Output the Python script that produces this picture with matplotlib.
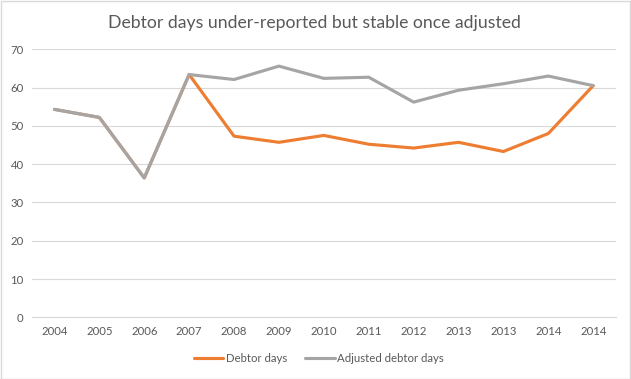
import matplotlib.pyplot as plt
from matplotlib.patches import Rectangle

# year labels as they appear on the axis (duplicates are in the original)
years = ['2004', '2005', '2006', '2007', '2008', '2009', '2010',
         '2011', '2012', '2013', '2013', '2014', '2014']
debtor_days = [54.3, 52.2, 36.4, 63.4, 47.3, 45.7, 47.5,
               45.2, 44.2, 45.7, 43.3, 48.0, 60.5]
adjusted_days = [54.3, 52.2, 36.4, 63.4, 62.1, 65.6, 62.4,
                 62.7, 56.2, 59.3, 61.0, 63.0, 60.5]
yticks = [0, 10, 20, 30, 40, 50, 60, 70]

plt.rcParams['font.family'] = ['Lato', 'DejaVu Sans']
txt_col = '#595959'

fig = plt.figure(figsize=(6.31, 3.79), dpi=100)
ax = fig.add_axes([0.0507, 0.1628, 0.925, 0.7072])

x = list(range(len(years)))
ax.plot(x, debtor_days, color='#ED7D31', lw=2.25, label='Debtor days',
        solid_joinstyle='round', solid_capstyle='round')
ax.plot(x, adjusted_days, color='#A5A5A5', lw=2.25, label='Adjusted debtor days',
        solid_joinstyle='round', solid_capstyle='round')

ax.set_xlim(-0.5, len(years) - 0.5)
ax.set_ylim(0, 70)
ax.set_yticks(yticks)
ax.set_xticks(x)
ax.set_xticklabels(years)
ax.grid(axis='y', color='#D9D9D9', lw=0.8)
ax.set_axisbelow(True)
for s in ['top', 'right', 'left']:
    ax.spines[s].set_visible(False)
ax.spines['bottom'].set_color('#D9D9D9')
ax.spines['bottom'].set_linewidth(0.8)
ax.tick_params(length=0, labelsize=8.2, labelcolor=txt_col, pad=6)

fig.text(0.498, 0.94, 'Debtor days under-reported but stable once adjusted',
         ha='center', va='center', fontsize=12.7, color=txt_col)

fig.legend(loc='center', bbox_to_anchor=(0.505, 0.055), ncol=2, frameon=False,
           fontsize=8.2, labelcolor=txt_col, handlelength=2.6, handletextpad=0.2,
           columnspacing=1.6)

# light chart border like the original
fig.patches.append(Rectangle((0.001, 0.001), 0.998, 0.997, transform=fig.transFigure,
                             fill=False, edgecolor='#D9D9D9', lw=1))

plt.savefig('out.png', dpi=100)
